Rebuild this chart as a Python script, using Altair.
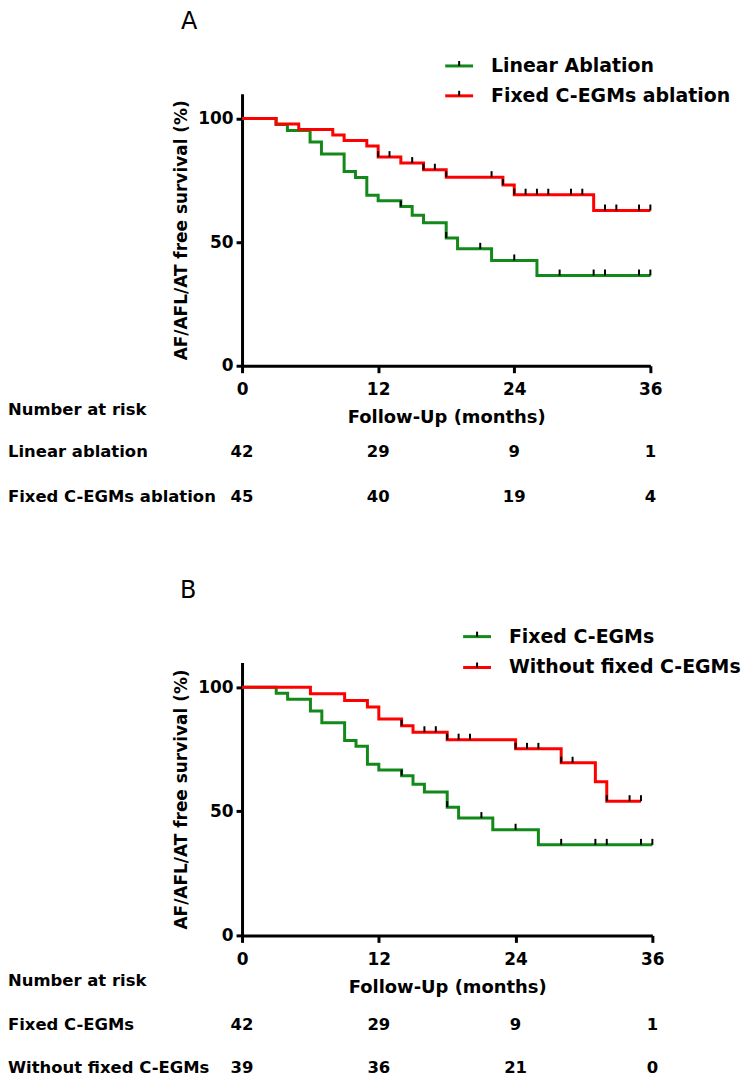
import altair as alt
import pandas as pd

FONT = "DejaVu Sans"
GREEN = "#12891a"
RED = "#ff0000"

# ---------------- Panel A data ----------------
a_names = ["Linear Ablation", "Fixed C-EGMs ablation"]
a_lin_t = [0, 3, 4, 6, 7, 9, 10, 11, 12, 14, 15, 16, 18, 19, 22, 26, 36]
a_lin_s = [100, 97.6, 95.2, 90.5, 85.7, 78.6, 76.2, 69.0, 66.7, 64.4, 60.9, 57.8, 51.7, 47.3, 42.6, 36.5, 36.5]
a_lin_c = [14, 18, 21, 24, 28, 31, 32, 35, 36]
a_fix_t = [0, 3, 5, 8, 9, 11, 12, 14, 16, 18, 23, 24, 31, 36]
a_fix_s = [100, 97.8, 95.6, 93.3, 91.1, 88.9, 84.4, 82.0, 79.3, 76.3, 73.1, 69.2, 62.8, 62.8]
a_fix_c = [12, 13, 15, 16, 17, 18, 22, 23, 24, 25, 26, 27, 29, 30, 32, 33, 35, 36]
a_risk_labels = ["Linear ablation", "Fixed C-EGMs ablation"]
a_risk_lin = [42, 29, 9, 1]
a_risk_fix = [45, 40, 19, 4]

# ---------------- Panel B data ----------------
b_names = ["Fixed C-EGMs", "Without fixed C-EGMs"]
b_fix_t = [0, 3, 4, 6, 7, 9, 10, 11, 12, 14, 15, 16, 18, 19, 22, 26, 36]
b_fix_s = [100, 97.6, 95.2, 90.5, 85.7, 78.6, 76.2, 69.0, 66.7, 64.4, 60.9, 57.8, 51.7, 47.3, 42.6, 36.5, 36.5]
b_fix_c = [14, 18, 21, 24, 28, 31, 32, 35, 36]
b_wo_t = [0, 6, 9, 11, 12, 14, 15, 18, 24, 28, 31, 32, 35]
b_wo_s = [100, 97.4, 94.7, 92.1, 87.2, 84.5, 81.9, 78.9, 75.2, 69.6, 61.9, 54.1, 54.1]
b_wo_c = [14, 16, 17, 18, 19, 20, 24, 25, 26, 28, 29, 32, 34, 35]
b_risk_labels = ["Fixed C-EGMs", "Without fixed C-EGMs"]
b_risk_fix = [42, 29, 9, 1]
b_risk_wo = [39, 36, 21, 0]

risk_times = [0, 12, 24, 36]
x_ticks = [0, 12, 24, 36]
y_ticks = [0, 50, 100]


def step_value(times, surv, t):
    v = surv[0]
    for tt, ss in zip(times, surv):
        if tt <= t:
            v = ss
    return v


def panel(letter, names, series, risk_labels, risk_rows, width, height,
          leg_x0, leg_y, text_x, risk_y, label_x, letter_x, top_anchor):
    colors = [GREEN, RED]
    curve_rows = []
    cens_rows = []
    for name, (tt, ss, cc) in zip(names, series):
        for a, b in zip(tt, ss):
            curve_rows.append({"t": a, "s": b, "g": name})
        for c in cc:
            cens_rows.append({"t": c, "s": step_value(tt, ss, c), "g": name})
    curves_df = pd.DataFrame(curve_rows)
    cens_df = pd.DataFrame(cens_rows)

    x_axis = alt.Axis(values=x_ticks, title="Follow-Up (months)", grid=False,
                      domainColor="black", domainWidth=3, tickColor="black",
                      tickWidth=3, tickSize=7, labelFont=FONT, labelFontSize=17,
                      labelFontWeight="bold", labelColor="black", labelPadding=9,
                      labelFlush=False, titleFont=FONT, titleFontSize=18,
                      titleFontWeight="bold", titleColor="black", titlePadding=11)
    y_axis = alt.Axis(values=y_ticks, title="AF/AFL/AT free survival (%)", grid=False,
                      domainColor="black", domainWidth=3, tickColor="black",
                      tickWidth=3, tickSize=6, labelFont=FONT, labelFontSize=17,
                      labelFontWeight="bold", labelColor="black", labelPadding=3,
                      titleFont=FONT, titleFontSize=17, titleFontWeight="bold",
                      titleColor="black", titlePadding=7)

    curves = alt.Chart(curves_df).mark_line(interpolate="step-after", strokeWidth=3).encode(
        x=alt.X("t:Q", scale=alt.Scale(domain=[0, 36], nice=False, zero=False), axis=x_axis),
        y=alt.Y("s:Q", scale=alt.Scale(domain=[0, 110], nice=False), axis=y_axis),
        color=alt.Color("g:N", scale=alt.Scale(domain=names, range=colors), legend=None),
    )
    cens = alt.Chart(cens_df).mark_rule(color="black", strokeWidth=2, y2Offset=-6).encode(
        x="t:Q", y="s:Q", y2=alt.Y2("s:Q")
    )
    layers = [curves, cens]

    # legend
    for i, name in enumerate(names):
        ly = leg_y[i]
        df = pd.DataFrame({"label": [name]})
        layers.append(alt.Chart(df).mark_rule(color=colors[i], strokeWidth=3).encode(
            x=alt.value(leg_x0), x2=alt.value(leg_x0 + 28), y=alt.value(ly)))
        layers.append(alt.Chart(df).mark_rule(color="black", strokeWidth=2).encode(
            x=alt.value(leg_x0 + 14), y=alt.value(ly - 5), y2=alt.value(ly)))
        layers.append(alt.Chart(df).mark_text(align="left", baseline="middle", font=FONT,
                                              fontSize=19, fontWeight="bold", color="black").encode(
            x=alt.value(text_x), y=alt.value(ly), text="label:N"))

    # number at risk
    tsize = 16.5
    head_df = pd.DataFrame({"label": ["Number at risk"]})
    layers.append(alt.Chart(head_df).mark_text(align="left", baseline="middle", font=FONT,
                                               fontSize=tsize, fontWeight="bold", color="black").encode(
        x=alt.value(label_x), y=alt.value(risk_y[0]), text="label:N"))
    for j, (lab, vals) in enumerate(zip(risk_labels, risk_rows)):
        ldf = pd.DataFrame({"label": [lab]})
        layers.append(alt.Chart(ldf).mark_text(align="left", baseline="middle", font=FONT,
                                               fontSize=tsize, fontWeight="bold", color="black").encode(
            x=alt.value(label_x), y=alt.value(risk_y[j + 1]), text="label:N"))
        ndf = pd.DataFrame({"t": risk_times, "n": [str(v) for v in vals]})
        layers.append(alt.Chart(ndf).mark_text(align="center", baseline="middle", font=FONT,
                                               fontSize=tsize, fontWeight="bold", color="black").encode(
            x="t:Q", y=alt.value(risk_y[j + 1]), text="n:N"))

    # panel letter
    let_df = pd.DataFrame({"label": [letter]})
    layers.append(alt.Chart(let_df).mark_text(align="center", baseline="middle", font=FONT,
                                              fontSize=24, color="black").encode(
        x=alt.value(letter_x), y=alt.value(-72), text="label:N"))
    if top_anchor is not None:
        # invisible anchor that fixes the top of the page layout
        layers.append(alt.Chart(let_df).mark_rule(opacity=0, strokeWidth=0).encode(
            x=alt.value(0), x2=alt.value(1), y=alt.value(top_anchor)))

    return alt.layer(*layers).properties(width=width, height=height)


panel_a = panel("A", a_names,
                [(a_lin_t, a_lin_s, a_lin_c), (a_fix_t, a_fix_s, a_fix_c)],
                a_risk_labels, [a_risk_lin, a_risk_fix], 410, 273,
                leg_x0=204, leg_y=[-28, 2], text_x=250, risk_y=[317, 360, 405],
                label_x=-235, letter_x=-53, top_anchor=-84)
panel_b = panel("B", b_names,
                [(b_fix_t, b_fix_s, b_fix_c), (b_wo_t, b_wo_s, b_wo_c)],
                b_risk_labels, [b_risk_fix, b_risk_wo], 412, 274,
                leg_x0=222, leg_y=[-26, 5], text_x=268, risk_y=[320, 364, 407],
                label_x=-235, letter_x=-54, top_anchor=None)

chart = alt.vconcat(panel_a, panel_b, spacing=298, bounds="flush").properties(
    padding=0, background="white"
).configure_view(stroke=None)

chart.save("out.html", embed_options={"renderer": "svg", "actions": False})
